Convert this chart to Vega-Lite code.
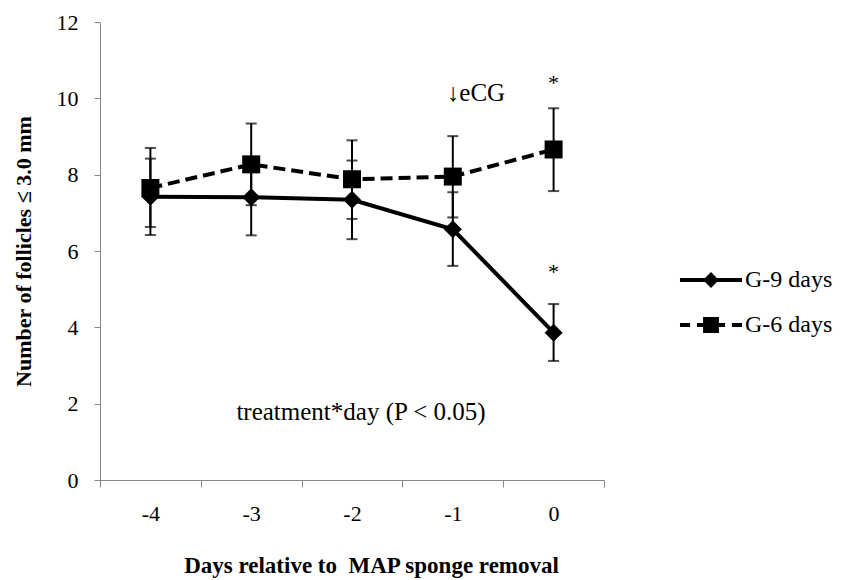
{
  "$schema": "https://vega.github.io/schema/vega-lite/v6.json",
  "width": 504,
  "height": 458,
  "autosize": "none",
  "padding": {"left": 100, "top": 22, "right": 243, "bottom": 100},
  "background": "white",
  "config": {
    "font": "Liberation Serif",
    "view": {"stroke": null},
    "axis": {"grid": false, "labelFont": "Liberation Serif", "titleFont": "Liberation Serif", "labelColor": "black", "titleColor": "black", "domainColor": "#888888", "tickColor": "#888888"}
  },
  "datasets": {
    "series": [
      {"day": "-4", "group": "G-9 days", "mean": 7.42, "lo": 6.42, "hi": 8.42},
      {"day": "-3", "group": "G-9 days", "mean": 7.41, "lo": 6.41, "hi": 8.41},
      {"day": "-2", "group": "G-9 days", "mean": 7.34, "lo": 6.31, "hi": 8.37},
      {"day": "-1", "group": "G-9 days", "mean": 6.57, "lo": 5.61, "hi": 7.54},
      {"day": "0", "group": "G-9 days", "mean": 3.86, "lo": 3.12, "hi": 4.61},
      {"day": "-4", "group": "G-6 days", "mean": 7.65, "lo": 6.63, "hi": 8.7},
      {"day": "-3", "group": "G-6 days", "mean": 8.27, "lo": 7.2, "hi": 9.34},
      {"day": "-2", "group": "G-6 days", "mean": 7.88, "lo": 6.84, "hi": 8.9},
      {"day": "-1", "group": "G-6 days", "mean": 7.95, "lo": 6.88, "hi": 9.01},
      {"day": "0", "group": "G-6 days", "mean": 8.66, "lo": 7.57, "hi": 9.74}
    ],
    "centerNotes": [
      {"day": "0", "y": 10.22, "label": "*"},
      {"day": "0", "y": 5.27, "label": "*"}
    ],
    "leftNotes": [
      {"day": "-1", "y": 9.93, "label": "↓eCG"}
    ],
    "midNotes": [
      {"day": "-2", "y": 1.57, "label": "treatment*day (P < 0.05)"}
    ]
  },
  "layer": [
    {
      "data": {"name": "series"},
      "mark": {"type": "rule", "color": "black", "strokeWidth": 2},
      "encoding": {
        "x": {"field": "day", "type": "nominal", "sort": ["-4", "-3", "-2", "-1", "0"], "scale": {"paddingInner": 0, "paddingOuter": 0},
          "axis": {"title": "Days relative to \u00a0MAP sponge removal", "labelAngle": 0, "labelFontSize": 22, "titleFontSize": 23, "titleFontWeight": "bold", "tickBand": "extent", "tickSize": 7, "labelPadding": 16, "titlePadding": 30, "titleX": 271}},
        "y": {"field": "lo", "type": "quantitative", "scale": {"domain": [0, 12], "nice": false},
          "axis": {"title": "Number of follicles ≤ 3.0 mm", "values": [0, 2, 4, 6, 8, 10, 12], "labelFontSize": 22, "titleFontSize": 22, "titleFontWeight": "bold", "tickSize": 6, "labelPadding": 16, "titlePadding": 21}},
        "y2": {"field": "hi"}
      }
    },
    {
      "data": {"name": "series"},
      "mark": {"type": "tick", "color": "black", "thickness": 2, "size": 11},
      "encoding": {
        "x": {"field": "day", "type": "nominal", "sort": ["-4", "-3", "-2", "-1", "0"]},
        "y": {"field": "lo", "type": "quantitative"}
      }
    },
    {
      "data": {"name": "series"},
      "mark": {"type": "tick", "color": "black", "thickness": 2, "size": 11},
      "encoding": {
        "x": {"field": "day", "type": "nominal", "sort": ["-4", "-3", "-2", "-1", "0"]},
        "y": {"field": "hi", "type": "quantitative"}
      }
    },
    {
      "data": {"name": "series"},
      "transform": [{"filter": "datum.group == 'G-9 days'"}],
      "mark": {"type": "line", "color": "black", "strokeWidth": 4, "strokeCap": "butt"},
      "encoding": {
        "x": {"field": "day", "type": "nominal", "sort": ["-4", "-3", "-2", "-1", "0"]},
        "y": {"field": "mean", "type": "quantitative"}
      }
    },
    {
      "data": {"name": "series"},
      "transform": [{"filter": "datum.group == 'G-6 days'"}],
      "mark": {"type": "line", "color": "black", "strokeWidth": 4, "strokeCap": "butt", "strokeDash": [12, 6]},
      "encoding": {
        "x": {"field": "day", "type": "nominal", "sort": ["-4", "-3", "-2", "-1", "0"]},
        "y": {"field": "mean", "type": "quantitative"}
      }
    },
    {
      "data": {"name": "series"},
      "transform": [{"filter": "datum.group == 'G-9 days'"}],
      "mark": {"type": "point", "shape": "diamond", "filled": true, "color": "black", "opacity": 1, "size": 324},
      "encoding": {
        "x": {"field": "day", "type": "nominal", "sort": ["-4", "-3", "-2", "-1", "0"]},
        "y": {"field": "mean", "type": "quantitative"}
      }
    },
    {
      "data": {"name": "series"},
      "transform": [{"filter": "datum.group == 'G-6 days'"}],
      "mark": {"type": "point", "shape": "square", "filled": true, "color": "black", "opacity": 1, "size": 324},
      "encoding": {
        "x": {"field": "day", "type": "nominal", "sort": ["-4", "-3", "-2", "-1", "0"]},
        "y": {"field": "mean", "type": "quantitative"}
      }
    },
    {
      "data": {"name": "series"},
      "mark": {"type": "point", "filled": true, "color": "black", "opacity": 0, "size": 1936},
      "encoding": {
        "x": {"field": "day", "type": "nominal", "sort": ["-4", "-3", "-2", "-1", "0"]},
        "y": {"field": "mean", "type": "quantitative"},
        "shape": {"field": "group", "type": "nominal",
          "scale": {"domain": ["G-9 days", "G-6 days"], "range": ["M-1.41,-0.09H1.41V0.09H-1.41Z M0,-0.36L0.36,0L0,0.36L-0.36,0Z", "M-1.41,-0.09H-0.95V0.09H-1.41Z M-0.64,-0.09H0.64V0.09H-0.64Z M-0.36,-0.36H0.36V0.36H-0.36Z M0.95,-0.09H1.41V0.09H0.95Z"]},
          "legend": {
            "title": null, "orient": "none", "legendX": 589, "legendY": 236,
            "labelFont": "Liberation Serif", "labelFontSize": 24, "labelColor": "black", "labelOffset": 12,
            "symbolSize": 1936, "rowPadding": 11, "symbolStrokeWidth": 0, "symbolFillColor": "black", "symbolOpacity": 1,
            "encode": {"symbols": {"update": {"opacity": {"value": 1}, "fill": {"value": "black"}, "strokeWidth": {"value": 0}}}}
          }}
      }
    },
    {
      "data": {"name": "centerNotes"},
      "mark": {"type": "text", "font": "Liberation Serif", "fontSize": 22, "color": "black", "align": "center", "baseline": "alphabetic"},
      "encoding": {
        "x": {"field": "day", "type": "nominal", "sort": ["-4", "-3", "-2", "-1", "0"]},
        "y": {"field": "y", "type": "quantitative"},
        "text": {"field": "label"}
      }
    },
    {
      "data": {"name": "leftNotes"},
      "mark": {"type": "text", "font": "Liberation Serif", "fontSize": 25, "color": "black", "align": "left", "baseline": "alphabetic", "dx": -6},
      "encoding": {
        "x": {"field": "day", "type": "nominal", "sort": ["-4", "-3", "-2", "-1", "0"]},
        "y": {"field": "y", "type": "quantitative"},
        "text": {"field": "label"}
      }
    },
    {
      "data": {"name": "midNotes"},
      "mark": {"type": "text", "font": "Liberation Serif", "fontSize": 25, "color": "black", "align": "center", "baseline": "alphabetic", "dx": 9},
      "encoding": {
        "x": {"field": "day", "type": "nominal", "sort": ["-4", "-3", "-2", "-1", "0"]},
        "y": {"field": "y", "type": "quantitative"},
        "text": {"field": "label"}
      }
    }
  ]
}
